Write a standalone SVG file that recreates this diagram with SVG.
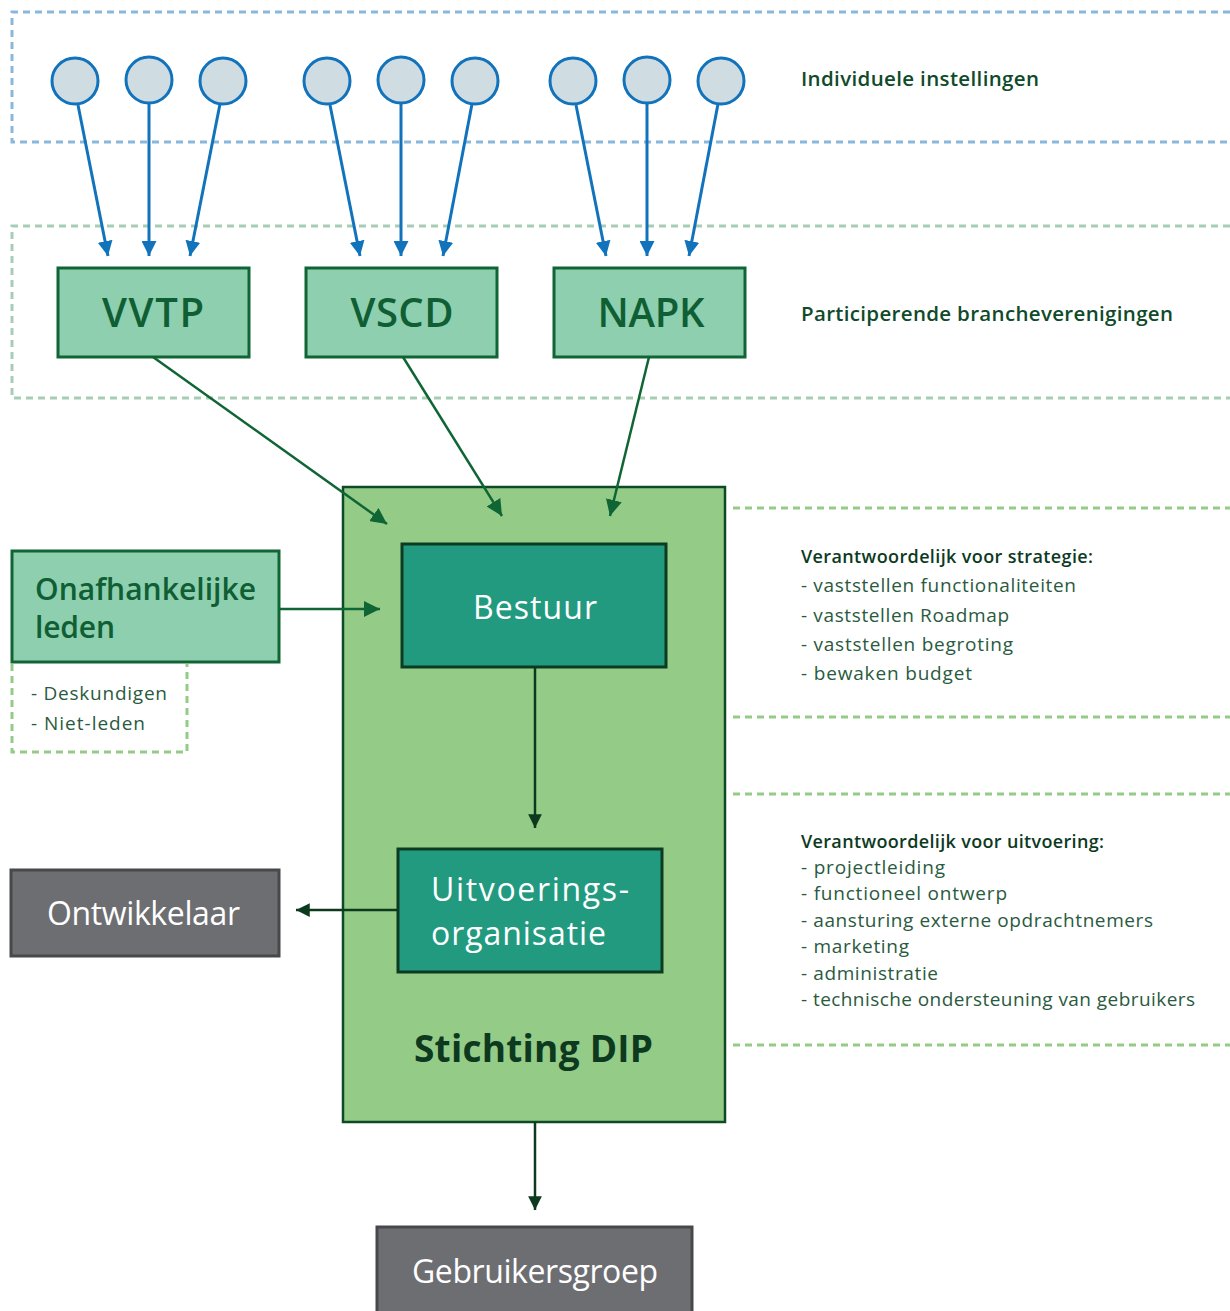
<svg xmlns="http://www.w3.org/2000/svg" width="1230" height="1311" viewBox="0 0 1230 1311">
<style>
text{font-family:"Open Sans","Noto Sans",sans-serif}
.bl{fill:none;stroke:#1273bd;stroke-width:3}
.gr{fill:none;stroke:#106535;stroke-width:2.5}
.dk{fill:none;stroke:#0d3a1f;stroke-width:2.5}
.circ{fill:#cfdce2;stroke:#1273bd;stroke-width:3}
.br{fill:#8dcfae;stroke:#106535;stroke-width:3}
.brt{font-weight:600;font-size:40px;fill:#0f5e34;text-anchor:middle}
.teal{fill:#219a80;stroke:#0c3b22;stroke-width:3}
.grey{fill:#6d6e72;stroke:#47484b;stroke-width:3}
.wt{font-size:32px;fill:#ffffff}
.lbl{font-size:20.5px;fill:#0f4a2a;font-weight:600}
.hd{font-size:18px;fill:#0d3a1f;font-weight:600}
.it{font-size:19px;fill:#2a5a40}
.dl{fill:none;stroke:#94cc87;stroke-width:3;stroke-dasharray:7 5}
</style>
<defs>
<marker id="ab" viewBox="0 0 10 10" refX="10" refY="5" markerWidth="5" markerHeight="5" orient="auto" markerUnits="strokeWidth"><path d="M0,0 L10,5 L0,10 z" fill="#1273bd"/></marker>
<marker id="ag" viewBox="0 0 10 10" refX="10" refY="5" markerWidth="6.5" markerHeight="6.5" orient="auto" markerUnits="strokeWidth"><path d="M0,0 L10,5 L0,10 z" fill="#106535"/></marker>
<marker id="ad" viewBox="0 0 10 10" refX="10" refY="5" markerWidth="5.5" markerHeight="5.5" orient="auto" markerUnits="strokeWidth"><path d="M0,0 L10,5 L0,10 z" fill="#0d3a1f"/></marker>
</defs>

<g id="layer-individual">
<path d="M1230,12 H12 V142 H1230" fill="none" stroke="#8ab8dd" stroke-width="3" stroke-dasharray="7 5"/>
<text class="lbl" x="801" y="86" textLength="238">Individuele instellingen</text>
</g>
<g id="layer-branche">
<path d="M1230,226 H12 V398 H1230" fill="none" stroke="#a8cdb6" stroke-width="3" stroke-dasharray="7 5"/>
<text class="lbl" x="801" y="321" textLength="372">Participerende brancheverenigingen</text>
</g>

<g id="circles">
<circle class="circ" cx="75" cy="81" r="23"/>
<circle class="circ" cx="149" cy="80" r="23"/>
<circle class="circ" cx="223" cy="81" r="23"/>
<circle class="circ" cx="327" cy="81" r="23"/>
<circle class="circ" cx="401" cy="80" r="23"/>
<circle class="circ" cx="475" cy="81" r="23"/>
<circle class="circ" cx="573" cy="81" r="23"/>
<circle class="circ" cx="647" cy="80" r="23"/>
<circle class="circ" cx="721" cy="81" r="23"/>
</g>

<g id="stichting">
<rect x="343" y="487" width="382" height="635" fill="#94cc87" stroke="#0d4a26" stroke-width="2.5"/>
<text x="414" y="1062" font-weight="700" font-size="37" fill="#0d3a1f" textLength="239">Stichting DIP</text>
</g>

<g id="vvtp"><rect class="br" x="58" y="268" width="191" height="89"/><text class="brt" x="153" y="327" textLength="102">VVTP</text></g>
<g id="vscd"><rect class="br" x="306" y="268" width="191" height="89"/><text class="brt" x="402" y="327" textLength="103">VSCD</text></g>
<g id="napk"><rect class="br" x="554" y="268" width="191" height="89"/><text class="brt" x="651" y="327" textLength="107">NAPK</text></g>

<g id="onafhankelijk">
<rect class="br" x="12" y="551" width="267" height="111"/>
<text x="35" y="600" font-weight="600" font-size="30" fill="#0f5e34" textLength="221">Onafhankelijke</text>
<text x="35" y="638" font-weight="600" font-size="30" fill="#0f5e34" textLength="80">leden</text>
<path class="dl" d="M12,664 V752 H187 V664"/>
<text class="it" x="31" y="700" textLength="136">- Deskundigen</text>
<text class="it" x="31" y="730" textLength="114">- Niet-leden</text>
</g>

<g id="bestuur"><rect class="teal" x="402" y="544" width="264" height="123"/><text class="wt" x="473" y="619" textLength="124">Bestuur</text></g>
<g id="uitvoering"><rect class="teal" x="398" y="849" width="264" height="123"/>
<text class="wt" x="431" y="901" textLength="198">Uitvoerings-</text><text class="wt" x="431" y="945" textLength="175">organisatie</text></g>

<g id="ontwikkelaar"><rect class="grey" x="11" y="870" width="268" height="86"/><text class="wt" x="47" y="925" font-size="30" font-weight="500" textLength="193">Ontwikkelaar</text></g>
<g id="gebruikersgroep"><rect class="grey" x="377" y="1227" width="315" height="100"/><text class="wt" x="412" y="1283" font-size="30" font-weight="500" textLength="246">Gebruikersgroep</text></g>

<g id="info-strategie">
<path class="dl" d="M733,508 H1230"/>
<path class="dl" d="M733,717 H1230"/>
<text class="hd" x="801" y="563" textLength="292">Verantwoordelijk voor strategie:</text>
<text class="it" x="801" y="592" textLength="275">- vaststellen functionaliteiten</text>
<text class="it" x="801" y="622" textLength="208">- vaststellen Roadmap</text>
<text class="it" x="801" y="651" textLength="212">- vaststellen begroting</text>
<text class="it" x="801" y="680" textLength="171">- bewaken budget</text>
</g>
<g id="info-uitvoering">
<path class="dl" d="M733,794 H1230"/>
<path class="dl" d="M733,1045 H1230"/>
<text class="hd" x="801" y="848" textLength="303">Verantwoordelijk voor uitvoering:</text>
<text class="it" x="801" y="874" textLength="144">- projectleiding</text>
<text class="it" x="801" y="900" textLength="206">- functioneel ontwerp</text>
<text class="it" x="801" y="927" textLength="352">- aansturing externe opdrachtnemers</text>
<text class="it" x="801" y="953" textLength="108">- marketing</text>
<text class="it" x="801" y="980" textLength="137">- administratie</text>
<text class="it" x="801" y="1006" textLength="394">- technische ondersteuning van gebruikers</text>
</g>

<g id="connectors">
<path class="bl" marker-end="url(#ab)" d="M78,105 L108,256"/>
<path class="bl" marker-end="url(#ab)" d="M149,104 L149,256"/>
<path class="bl" marker-end="url(#ab)" d="M220,104 L190,256"/>
<path class="bl" marker-end="url(#ab)" d="M330,105 L360,256"/>
<path class="bl" marker-end="url(#ab)" d="M401,104 L401,256"/>
<path class="bl" marker-end="url(#ab)" d="M472,104 L443,256"/>
<path class="bl" marker-end="url(#ab)" d="M576,105 L606,256"/>
<path class="bl" marker-end="url(#ab)" d="M647,104 L647,256"/>
<path class="bl" marker-end="url(#ab)" d="M718,104 L689,256"/>
<path class="gr" marker-end="url(#ag)" d="M153,357 L387,524"/>
<path class="gr" marker-end="url(#ag)" d="M403,357 L502,516"/>
<path class="gr" marker-end="url(#ag)" d="M649,357 L610,516"/>
<path class="gr" marker-end="url(#ag)" d="M279,609 L380,609"/>
<path class="dk" marker-end="url(#ad)" d="M535,667 L535,828"/>
<path class="dk" marker-end="url(#ad)" d="M398,910 L296,910"/>
<path class="dk" marker-end="url(#ad)" d="M535,1122 L535,1210"/>
</g>
</svg>
